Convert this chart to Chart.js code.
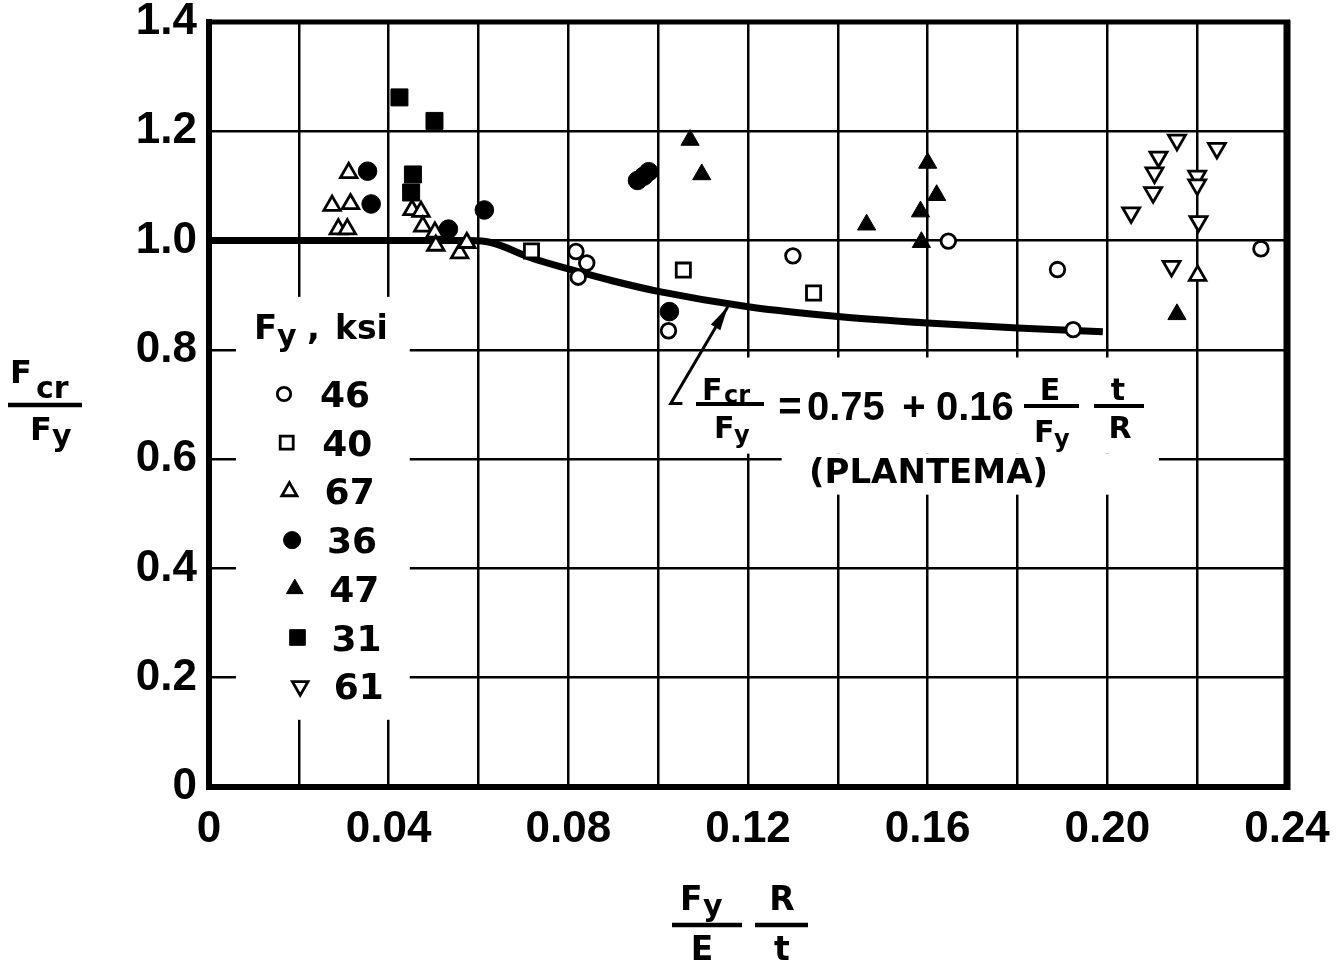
<!DOCTYPE html>
<html>
<head>
<meta charset="utf-8">
<title>Fcr/Fy versus (Fy/E)(R/t)</title>
<script src="https://cdn.jsdelivr.net/npm/chart.js@4.4.1/dist/chart.umd.min.js"></script>
<style>
  html, body { margin: 0; padding: 0; background: #fff; }
  #wrap { width: 1341px; height: 966px; }
</style>
</head>
<body>
<div id="wrap"><canvas id="chart" width="1341" height="966"></canvas></div>
<script>
// axis labels
const xTickLabels = ['0', '0.04', '0.08', '0.12', '0.16', '0.20', '0.24'];
const yTickLabels = ['0', '0.2', '0.4', '0.6', '0.8', '1.0', '1.2', '1.4'];

// test points, one pair of arrays per yield stress (ksi)
const ksi46X = [0.0817, 0.0841, 0.0822, 0.1023, 0.1300, 0.1646, 0.1889, 0.1924, 0.2342];
const ksi46Y = [0.980, 0.959, 0.933, 0.835, 0.972, 0.999, 0.947, 0.837, 0.985];

const ksi40X = [0.0718, 0.1056, 0.1346];
const ksi40Y = [0.981, 0.946, 0.904];

const ksi67X = [0.0274, 0.0288, 0.0308, 0.0311, 0.0315, 0.0452, 0.0472, 0.0476, 0.0503, 0.0505, 0.0558, 0.0574, 0.2201];
const ksi67Y = [1.064, 1.021, 1.021, 1.124, 1.067, 1.056, 1.053, 1.026, 1.015, 0.991, 0.977, 0.996, 0.936];

const ksi36X = [0.0353, 0.0361, 0.0533, 0.0613, 0.0954, 0.0968, 0.0979, 0.1025];
const ksi36Y = [1.127, 1.067, 1.021, 1.056, 1.110, 1.118, 1.126, 0.870];

const ksi47X = [0.1071, 0.1097, 0.1464, 0.1600, 0.1620, 0.1584, 0.1586, 0.2155];
const ksi47Y = [1.184, 1.121, 1.029, 1.142, 1.083, 1.053, 0.997, 0.865];

const ksi31X = [0.0424, 0.0502, 0.0454, 0.0450];
const ksi31Y = [1.262, 1.219, 1.121, 1.088];

const ksi61X = [0.2053, 0.2102, 0.2105, 0.2114, 0.2155, 0.2244, 0.2200, 0.2200, 0.2203, 0.2143];
const ksi61Y = [1.051, 1.088, 1.124, 1.153, 1.184, 1.169, 1.118, 1.102, 1.035, 0.953];

// Plantema curve
const plantemaX = [0, 0.058, 0.063, 0.0718, 0.08, 0.09, 0.10, 0.12, 0.14, 0.16, 0.18, 0.199];
const plantemaY = [1.0, 1.0, 0.996, 0.968, 0.948, 0.926, 0.907, 0.879, 0.861, 0.849, 0.840, 0.833];

// pointer from the formula to the curve
const arrowX = [0.1054, 0.1028, 0.1155];
const arrowY = [0.702, 0.702, 0.879];

const NUM = '"Liberation Sans", Arial, sans-serif';
const LET = '"DejaVu Sans", "Liberation Sans", sans-serif';
const INK = '#000';

const pts = (xs, ys) => xs.map((x, i) => ({ x, y: ys[i] }));

function series(label, xs, ys, style, radius, filled, rotation) {
  return {
    type: 'scatter',
    label,
    data: pts(xs, ys),
    pointStyle: style,
    pointRotation: rotation || 0,
    pointRadius: radius,
    pointBackgroundColor: filled ? INK : '#fff',
    pointBorderColor: INK,
    pointBorderWidth: filled ? 1 : 2.8,
    order: 0,
  };
}

const datasets = [
  series('46', ksi46X, ksi46Y, 'circle', 7.3, false),
  series('40', ksi40X, ksi40Y, 'rect', 10, false),
  series('67', ksi67X, ksi67Y, 'triangle', 9.5, false),
  series('36', ksi36X, ksi36Y, 'circle', 9.3, true),
  series('47', ksi47X, ksi47Y, 'triangle', 10.5, true),
  series('31', ksi31X, ksi31Y, 'rect', 12, true),
  series('61', ksi61X, ksi61Y, 'triangle', 9.8, false, 180),
  {
    type: 'line',
    label: 'Plantema',
    data: pts(plantemaX, plantemaY),
    borderColor: INK,
    borderWidth: 7,
    pointRadius: 0,
    cubicInterpolationMode: 'monotone',
    fill: false,
    order: 10,
  },
];

function txt(ctx, s, x, y, size, family, align) {
  ctx.font = `bold ${size}px ${family}`;
  ctx.textAlign = align || 'left';
  ctx.textBaseline = 'alphabetic';
  ctx.fillText(s, x, y);
}

function hline(ctx, x1, x2, y, w) {
  ctx.beginPath();
  ctx.lineWidth = w;
  ctx.moveTo(x1, y);
  ctx.lineTo(x2, y);
  ctx.stroke();
}

function marker(ctx, ds, x, y, k) {
  ctx.fillStyle = ds.pointBackgroundColor;
  ctx.strokeStyle = ds.pointBorderColor;
  ctx.lineWidth = ds.pointBorderWidth;
  const opts = { pointStyle: ds.pointStyle, rotation: ds.pointRotation, radius: ds.pointRadius * k, borderWidth: ds.pointBorderWidth };
  if (Chart.helpers && Chart.helpers.drawPoint) {
    Chart.helpers.drawPoint(ctx, opts, x, y);
  } else {
    ctx.beginPath();
    ctx.arc(x, y, opts.radius, 0, Math.PI * 2);
    ctx.fill();
    ctx.stroke();
  }
}

const annotations = {
  id: 'annotations',
  beforeDatasetsDraw(chart) {
    const { ctx } = chart;
    const px = v => chart.scales.x.getPixelForValue(v);
    const py = v => chart.scales.y.getPixelForValue(v);
    const blank = (x1, x2, y1, y2) => ctx.fillRect(px(x1), py(y2), px(x2) - px(x1), py(y1) - py(y2));

    ctx.save();
    // gaps in the grid behind the key and the formula
    ctx.fillStyle = '#fff';
    blank(0.006, 0.0447, 0.123, 0.897);
    blank(0.1015, 0.2115, 0.61, 0.786);
    blank(0.1275, 0.2115, 0.535, 0.61);

    ctx.fillStyle = INK;
    ctx.strokeStyle = INK;

    // key
    txt(ctx, 'F', 254, 339, 34, LET);
    txt(ctx, 'y', 277, 346, 30, LET);
    txt(ctx, ',', 307, 339, 34, LET);
    txt(ctx, 'ksi', 335, 339, 33, LET);
    const keys = chart.data.datasets.filter(d => d.type === 'scatter');
    keys.forEach((ds, i) => {
      const y = 394 + i * 48.7;
      marker(ctx, ds, 284 + i * 2.7, y, 0.92);
      ctx.fillStyle = INK;
      txt(ctx, ds.label, 320 + i * 2.3, y + 13, 36, LET);
    });

    // formula
    txt(ctx, 'F', 702, 400, 30, LET);
    txt(ctx, 'cr', 724, 403, 24, LET);
    hline(ctx, 696, 764, 404, 4);
    txt(ctx, 'F', 714, 438, 30, LET);
    txt(ctx, 'y', 734, 443, 24, LET);
    txt(ctx, '=', 790, 420, 40, NUM, 'center');
    txt(ctx, '0.75', 807, 420, 40, NUM);
    txt(ctx, '+', 914, 420, 40, NUM, 'center');
    txt(ctx, '0.16', 936, 420, 40, NUM);
    hline(ctx, 1024, 1079, 406, 4);
    txt(ctx, 'E', 1050, 400, 30, LET, 'center');
    txt(ctx, 'F', 1034, 442, 30, LET);
    txt(ctx, 'y', 1054, 447, 24, LET);
    hline(ctx, 1094, 1144, 406, 4);
    txt(ctx, 't', 1118, 400, 30, LET, 'center');
    txt(ctx, 'R', 1120, 438, 30, LET, 'center');
    txt(ctx, '(PLANTEMA)', 809, 483, 34, LET);

    // arrow
    const ax = arrowX.map(px), ay = arrowY.map(py);
    ctx.beginPath();
    ctx.lineWidth = 3;
    ctx.moveTo(ax[0], ay[0]);
    ctx.lineTo(ax[1], ay[1]);
    ctx.lineTo(ax[2], ay[2]);
    ctx.stroke();
    const ang = Math.atan2(ay[2] - ay[1], ax[2] - ax[1]);
    const L = 24, W = 5.5;
    const bx = ax[2] - Math.cos(ang) * L, by = ay[2] - Math.sin(ang) * L;
    ctx.beginPath();
    ctx.moveTo(ax[2], ay[2]);
    ctx.lineTo(bx - Math.sin(ang) * W, by + Math.cos(ang) * W);
    ctx.lineTo(bx + Math.sin(ang) * W, by - Math.cos(ang) * W);
    ctx.closePath();
    ctx.fill();

    ctx.restore();
  },
  afterDraw(chart) {
    const { ctx, chartArea: a } = chart;
    ctx.save();
    ctx.strokeStyle = INK;
    ctx.fillStyle = INK;
    // top and right frame
    hline(ctx, a.left - 3, a.right + 3, a.top, 5);
    ctx.beginPath();
    ctx.lineWidth = 7;
    ctx.moveTo(a.right, a.top - 2);
    ctx.lineTo(a.right, a.bottom + 3);
    ctx.stroke();

    // y title: Fcr / Fy
    txt(ctx, 'F', 10, 383, 32, LET);
    txt(ctx, 'cr', 36, 398, 30, LET);
    hline(ctx, 8, 82, 405, 4.5);
    txt(ctx, 'F', 30, 440, 32, LET);
    txt(ctx, 'y', 52, 446, 30, LET);

    // x title: Fy/E  R/t
    txt(ctx, 'F', 680, 910, 33, LET);
    txt(ctx, 'y', 703, 916, 30, LET);
    hline(ctx, 672, 742, 925, 4.5);
    txt(ctx, 'E', 702, 960, 33, LET, 'center');
    txt(ctx, 'R', 782, 910, 33, LET, 'center');
    hline(ctx, 755, 808, 925, 4.5);
    txt(ctx, 't', 782, 960, 33, LET, 'center');
    ctx.restore();
  },
};

new Chart(document.getElementById('chart'), {
  type: 'scatter',
  data: { datasets },
  options: {
    responsive: false,
    animation: false,
    events: [],
    layout: { padding: { top: 22, right: 54, left: 0, bottom: 0 } },
    plugins: { legend: { display: false }, tooltip: { enabled: false } },
    scales: {
      x: {
        type: 'linear',
        min: 0,
        max: 0.24,
        afterFit: s => { s.height = 179; s.paddingLeft = 0; s.paddingRight = 0; },
        ticks: {
          stepSize: 0.02,
          autoSkip: false,
          maxRotation: 0,
          padding: 16,
          color: INK,
          font: { family: NUM, size: 44, weight: 'bold' },
          callback: (v, i) => (i % 2 === 0 ? xTickLabels[i / 2] : ''),
        },
        grid: { color: INK, lineWidth: 2.5, drawTicks: false },
        border: { color: INK, width: 6 },
      },
      y: {
        type: 'linear',
        min: 0,
        max: 1.4,
        afterFit: s => { s.width = 209; s.paddingTop = 0; s.paddingBottom = 0; },
        ticks: {
          stepSize: 0.2,
          autoSkip: false,
          padding: 12,
          color: INK,
          font: { family: NUM, size: 44, weight: 'bold' },
          callback: (v, i) => yTickLabels[i],
        },
        grid: { color: INK, lineWidth: 2.5, drawTicks: false },
        border: { color: INK, width: 6 },
      },
    },
  },
  plugins: [annotations],
});
</script>
</body>
</html>
